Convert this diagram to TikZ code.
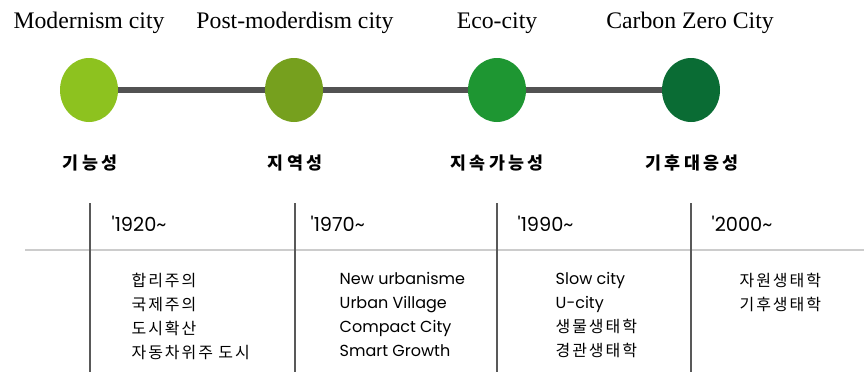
\documentclass[tikz,border=0pt]{standalone}
\usepackage{fontspec}
\setmainfont{Liberation Serif}
\newfontfamily\krfont[LetterSpace=12]{Noto Sans CJK KR}
\newfontfamily\krtrait[LetterSpace=18]{Noto Sans CJK KR}
\newfontfamily\gothic{Poppins}
\usepackage{tikz}
\usetikzlibrary{shapes, positioning}

\definecolor{eraA}{RGB}{141,194,31}
\definecolor{eraB}{RGB}{118,160,30}
\definecolor{eraC}{RGB}{30,150,50}
\definecolor{eraD}{RGB}{10,108,52}

\begin{document}
\begin{tikzpicture}[x=0.75pt, y=-0.75pt,
	era/.style={ellipse, minimum width=43.5pt, minimum height=48pt, inner sep=0pt},
	title/.style={font=\fontsize{17.8}{20}\selectfont},
	trait/.style={font=\krtrait\bfseries\fontsize{13}{14}\selectfont},
	year/.style={anchor=west, font=\gothic\fontsize{14.5}{16}\selectfont},
	items/.style={anchor=north west, align=left, font=\gothic\fontsize{12}{18}\selectfont}]
		\useasboundingbox (0, 0) rectangle (864, 372);
		
		% timeline
		\node[era, fill=eraA] (mod) at (89, 90) {};
		\node[era, fill=eraB] (post) at (294, 90) {};
		\node[era, fill=eraC] (eco) at (497, 90) {};
		\node[era, fill=eraD] (zero) at (691, 90) {};
		
		\path[draw=black!68, line width=5pt] (mod) edge (post)
			(post) edge (eco)
			(eco) edge (zero);
		
		\node[title] (tmod) at (89, 23) {Modernism city};
		\node[title] (tpost) at (295, 23) {Post-moderdism city};
		\node[title] (teco) at (497, 23) {Eco-city};
		\node[title] (tzero) at (690, 23) {Carbon Zero City};
		
		\node[trait] (kmod) at (90, 163) {기능성};
		\node[trait] (kpost) at (295, 163) {지역성};
		\node[trait] (keco) at (497, 163) {지속가능성};
		\node[trait] (kzero) at (692, 163) {기후대응성};
		
		% table
		\draw[black!20, line width=1.5pt] (25, 250) -- (864, 250);
		\foreach \x in {90, 295, 497, 691}
			\draw[black!65, line width=0.8pt] (\x, 203) -- (\x, 372);
		
		\node[year] (y1) at (107, 224) {\textquotesingle 1920\textasciitilde};
		\node[year] (y2) at (306, 224) {\textquotesingle 1970\textasciitilde};
		\node[year] (y3) at (513, 224) {\textquotesingle 1990\textasciitilde};
		\node[year] (y4) at (707, 224) {\textquotesingle 2000\textasciitilde};
		
		\node[items] (l1) at (127, 268) {\krfont 합리주의\\ \krfont 국제주의\\ \krfont 도시확산\\ \krfont 자동차위주 도시};
		\node[items] (l2) at (335, 268) {New urbanisme\\ Urban Village\\ Compact City\\ Smart Growth};
		\node[items] (l3) at (551, 268) {Slow city\\ U-city\\ \krfont 생물생태학\\ \krfont 경관생태학};
		\node[items] (l4) at (735, 268) {\krfont 자원생태학\\ \krfont 기후생태학};
	\end{tikzpicture}
\end{document}
